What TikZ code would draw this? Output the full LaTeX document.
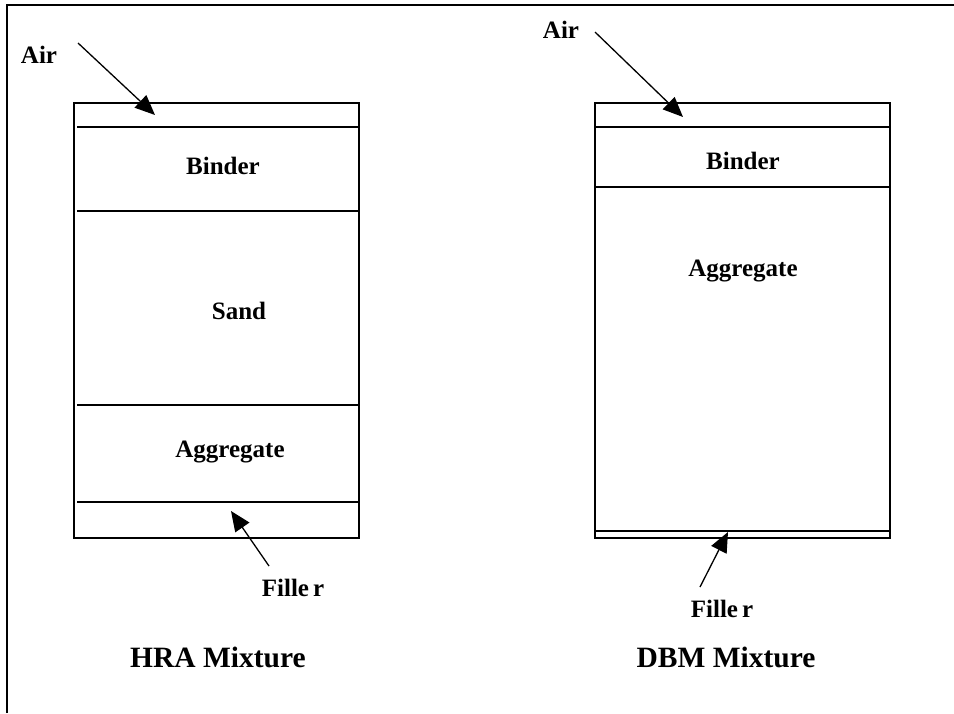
\documentclass[tikz,border=0pt]{standalone}
\usepackage{fontspec}
\setmainfont{Liberation Serif}
\usetikzlibrary{arrows.meta}
\begin{document}
\begin{tikzpicture}[x=1pt,y=-1pt,
  frame/.style={line width=1.6pt},
  layer/.style={line width=1.4pt},
  lbl/.style={font=\fontsize{25}{28}\selectfont\bfseries, inner sep=0pt},
  ttl/.style={font=\fontsize{29.5}{33}\selectfont\bfseries, inner sep=0pt},
  pointer/.style={line width=1.3pt, -{Triangle[length=20pt,width=17pt]}}]
\useasboundingbox (0,0) rectangle (954,713);
% outer frame (cut off at right and bottom)
\draw[frame] (7,713) -- (7,5) -- (954,5);
% ---- HRA box ----
\draw[layer] (74,103) rectangle (359,538);
\draw[layer] (77,127) -- (358,127);
\draw[layer] (77,211) -- (358,211);
\draw[layer] (77,405) -- (358,405);
\draw[layer] (77,502) -- (358,502);
\node[lbl] (airL) at (39,55) {Air};
\node[lbl] (binderL) at (223,166) {Binder};
\node[lbl] (sandL) at (239,311) {Sand};
\node[lbl] (aggL) at (230,452) {Aggregate};
\node[lbl] (fillL) at (293,588) {Fille\kern4pt r};
\node[ttl] (hra) at (218,657) {HRA Mixture};
\coordinate (airLs) at (78,43);
\coordinate (airLe) at (155,115);
\coordinate (fillLs) at (269,566);
\coordinate (fillLe) at (231,511);
\draw[pointer] (airLs) -- (airLe);
\draw[pointer] (fillLs) -- (fillLe);
% ---- DBM box ----
\draw[layer] (595,103) rectangle (890,538);
\draw[layer] (595,127) -- (890,127);
\draw[layer] (595,187) -- (890,187);
\draw[layer] (595,531) -- (890,531);
\node[lbl] (airR) at (561,30) {Air};
\node[lbl] (binderR) at (743,161) {Binder};
\node[lbl] (aggR) at (743,271) {Aggregate};
\node[lbl] (fillR) at (722,609) {Fille\kern4pt r};
\node[ttl] (dbm) at (726,657) {DBM Mixture};
\coordinate (airRs) at (595,32);
\coordinate (airRe) at (683,117);
\coordinate (fillRs) at (700,587);
\coordinate (fillRe) at (728,532);
\draw[pointer] (airRs) -- (airRe);
\draw[pointer] (fillRs) -- (fillRe);
\end{tikzpicture}
\end{document}
